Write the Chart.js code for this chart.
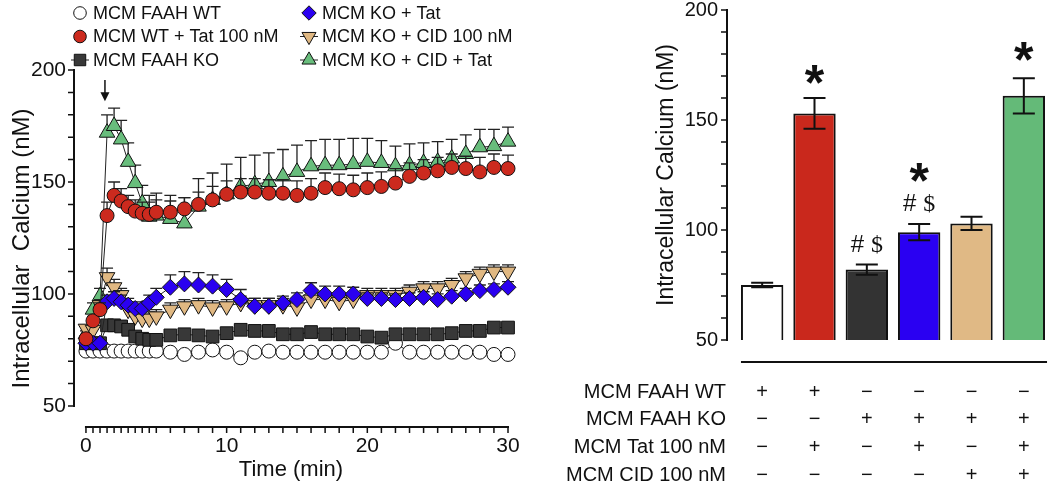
<!DOCTYPE html>
<html>
<head>
<meta charset="utf-8">
<script src="https://cdn.jsdelivr.net/npm/chart.js@4.4.1/dist/chart.umd.min.js"></script>
<style>
  html, body { margin: 0; padding: 0; background: #fff; }
  #wrap { position: relative; width: 1050px; height: 488px; }
  #left { position: absolute; left: 0; top: 0; width: 540px; height: 488px; }
  #right { position: absolute; left: 540px; top: 0; width: 510px; height: 488px; }
</style>
</head>
<body>
<div id="wrap">
  <div id="left"><canvas id="timeChart"></canvas></div>
  <div id="right"><canvas id="barChart"></canvas></div>
</div>
<script>
'use strict';

// ---- time course (left panel) ----
const times = [0, 0.5, 1, 1.5, 2, 2.5, 3, 3.5, 4, 4.5, 5, 6, 7, 8, 9, 10, 11, 12, 13, 14, 15,
               16, 17, 18, 19, 20, 21, 22, 23, 24, 25, 26, 27, 28, 29, 30];

const seriesNames = ['MCM FAAH WT', 'MCM WT + Tat 100 nM', 'MCM FAAH KO',
                     'MCM KO + Tat', 'MCM KO + CID 100 nM', 'MCM KO + CID + Tat'];

const wtValues       = [74.5, 74.5, 74.5, 74.5, 74.5, 74.5, 74.5, 74.5, 74.5, 74.5, 74.5,
                        74, 73, 74, 75, 74, 71.5, 74, 74.5, 74, 74, 74, 74, 74, 74, 74, 74,
                        78, 74, 74, 74, 74, 74, 74, 73, 73];
const wtTatValues    = [80, 88, 93, 135, 144, 141.5, 139, 137, 136, 135.5, 136.5,
                        136.5, 138, 140, 142, 144.5, 145.5, 145.5, 145, 145, 144, 145, 147.5,
                        147, 146.5, 147.5, 148, 149.5, 152.5, 154, 155, 156.5, 156, 154.5, 156.5, 156];
const koValues       = [78, 78, 78, 86, 86, 85.5, 84, 81, 80, 79.5, 79.5,
                        81.5, 82, 81.5, 81, 82.5, 84, 83.5, 83.5, 82, 82, 83, 82, 82, 82, 81,
                        80.5, 82, 82, 82, 82, 82.5, 83.5, 83.5, 85, 85];
const koTatValues    = [78, 78, 78, 96.5, 98, 96.5, 95, 93.5, 93.5, 96, 98.5,
                        103, 104.5, 104, 103.5, 102, 97.5, 94.5, 94.5, 96, 97.5, 101.5, 100,
                        100, 100, 98, 98, 97.5, 98, 98.5, 97.5, 99, 100, 101.5, 102, 103];
const koCidValues    = [84.5, 84, 95, 107.5, 103, 99.5, 93, 90, 89, 89, 90,
                        93, 94.5, 95, 94, 94.5, 96, 95, 95, 95, 94, 97.5, 97.5, 96.5, 97.5,
                        99.5, 99.5, 99.5, 101, 102.5, 102.5, 104, 107, 109, 110, 110];
const koCidTatValues = [82, 93, 99, 172, 175, 169, 159, 149.5, 140.5, 134.5, 135,
                        133.5, 131.5, 139, 142, 144.5, 148, 149, 150, 152.5, 154.5, 157, 157.5,
                        157.5, 158, 159, 158.5, 157, 157.5, 158.5, 159, 160.5, 162.5, 165.5, 166, 168];

// SEM (drawn upward only)
const wtSE       = [0.5, 0.5, 0.5, 0.5, 0.5, 0.5, 0.5, 0.5, 0.5, 0.5, 0.5,
                    0.5, 0.5, 0.5, 0.5, 0.5, 1, 0.5, 0.5, 0.5, 0.5, 0.5, 0.5, 0.5, 0.5, 0.5, 0.5,
                    1.5, 0.5, 0.5, 0.5, 0.5, 0.5, 0.5, 0.5, 0.5];
const wtTatSE    = [1, 2, 3, 6, 6, 5.5, 5, 5, 5, 5.5, 5.5,
                    5, 5, 5.5, 6, 6, 6, 6, 6, 6, 6.5, 6.5, 6.5, 6.5, 6.5, 6.5, 6.5, 6.5,
                    6, 6, 6, 6, 5.5, 6.5, 6, 6];
const koSE       = [1, 1, 1, 2.5, 2.5, 2.5, 2, 1.5, 1.5, 1.5, 1.5,
                    1.5, 1.5, 1.5, 1.5, 1.5, 2, 1.5, 1.5, 1.5, 1.5, 1.5, 1.5, 1.5, 1.5, 1.5,
                    1.5, 1.5, 1.5, 1.5, 1.5, 1.5, 2, 2, 2, 2];
const koTatSE    = [1, 1, 1, 3, 3, 3, 3, 3, 3, 3.5, 4,
                    5.5, 5.5, 5.5, 5, 4.5, 4.5, 3.5, 3.5, 3, 3, 3.5, 3.5, 3.5, 3, 2.5, 2.5,
                    2.5, 2.5, 2.5, 2.5, 2.5, 2.5, 2.5, 2.5, 2.5];
const koCidSE    = [1.5, 1.5, 2.5, 4, 3.5, 3, 3, 3, 3, 3, 3,
                    3, 3, 3, 3, 3, 3, 3, 3, 3, 3, 3, 3, 3.5, 3, 3, 3, 3, 3, 3, 3, 3,
                    3, 3, 3, 3];
const koCidTatSE = [1.5, 3, 3.5, 8, 8, 8.5, 8.5, 8, 8, 9.5, 10,
                    10.5, 11.5, 12.5, 12, 13.5, 13, 13, 13, 12, 12, 11.5, 11.5, 11.5, 11.5,
                    10.5, 10, 9, 9.5, 9, 9, 8.5, 8.5, 8, 7.5, 6.5];

const yTicks = [50, 100, 150, 200];
const xTicks = [0, 10, 20, 30];

// ---- summary bars (right panel) ----
const barGroups = ['MCM FAAH WT', 'MCM WT + Tat', 'MCM FAAH KO',
                   'MCM KO + Tat', 'MCM KO + CID', 'MCM KO + CID + Tat'];
const barMeans = [75, 153, 82, 99, 103, 161];
const barSE    = [1, 7, 2.3, 3.7, 3, 8];

const tableRows  = ['MCM FAAH WT', 'MCM FAAH KO', 'MCM Tat 100 nM', 'MCM CID 100 nM'];
const tableSigns = [
  ['+', '+', '\u2212', '\u2212', '\u2212', '\u2212'],
  ['\u2212', '\u2212', '+', '+', '+', '+'],
  ['\u2212', '+', '\u2212', '+', '\u2212', '+'],
  ['\u2212', '\u2212', '\u2212', '\u2212', '+', '+']
];

// ---------------------------------------------------------------
const seriesValues = [wtValues, wtTatValues, koValues, koTatValues, koCidValues, koCidTatValues];
const seriesErrors = [wtSE, wtTatSE, koSE, koTatSE, koCidSE, koCidTatSE];

const seriesStyle = [
  { color: '#ffffff', shape: 'circle',   r: 7,   rot: 0,   order: 6, legendLine: 0 },
  { color: '#cc2a1e', shape: 'circle',   r: 7,   rot: 0,   order: 1, legendLine: 0 },
  { color: '#383838', shape: 'rect',     r: 9,   rot: 0,   order: 3, legendLine: 18 },
  { color: '#2a00f0', shape: 'rectRot',  r: 8,   rot: 0,   order: 2, legendLine: 0 },
  { color: '#e0b882', shape: 'triangle', r: 9,   rot: 180, order: 4, legendLine: 18 },
  { color: '#68bd7c', shape: 'triangle', r: 9,   rot: 0,   order: 5, legendLine: 18 }
];
const barColors = ['#ffffff', '#c9281c', '#333333', '#2a00f2', '#e0b985', '#64ba78'];

const FONT = '"Liberation Sans", Arial, sans-serif';
Chart.defaults.font.family = FONT;
Chart.defaults.color = '#111';

// minor tick positions on the time axis
const xMinor = [];
for (let t = 0; t <= 5; t += 0.5) xMinor.push(t);
for (let t = 6; t <= 30; t++) xMinor.push(t);

const arrowMark = { t: 1.35, from: 195.5, to: 186 };

const lineAxes = {
  id: 'lineAxes',
  beforeDatasetsDraw(chart) {
    const { ctx, chartArea: a, scales: { x, y } } = chart;
    ctx.save();
    ctx.strokeStyle = '#111';
    ctx.lineWidth = 2;
    ctx.beginPath();
    ctx.moveTo(a.left, y.getPixelForValue(yTicks[0]) + 1);
    ctx.lineTo(a.left, y.getPixelForValue(yTicks[yTicks.length - 1]) - 1);
    ctx.moveTo(x.getPixelForValue(xTicks[0]) - 1, a.bottom);
    ctx.lineTo(x.getPixelForValue(xTicks[xTicks.length - 1]) + 1, a.bottom);
    ctx.stroke();
    ctx.lineWidth = 1.5;
    ctx.beginPath();
    for (let v = yTicks[0]; v <= yTicks[yTicks.length - 1]; v += 10) {
      const py = y.getPixelForValue(v);
      ctx.moveTo(a.left, py);
      ctx.lineTo(a.left - 6, py);
    }
    xMinor.forEach(t => {
      const px = x.getPixelForValue(t);
      ctx.moveTo(px, a.bottom);
      ctx.lineTo(px, a.bottom + 6);
    });
    ctx.stroke();
    ctx.restore();
  }
};

const lineErrors = {
  id: 'lineErrors',
  beforeDatasetDraw(chart, args) {
    const se = seriesErrors[args.index];
    const vals = seriesValues[args.index];
    const y = chart.scales.y;
    const ctx = chart.ctx;
    ctx.save();
    ctx.strokeStyle = '#222';
    ctx.lineWidth = 1.3;
    ctx.beginPath();
    args.meta.data.forEach((pt, j) => {
      const top = y.getPixelForValue(vals[j] + se[j]);
      ctx.moveTo(pt.x, pt.y);
      ctx.lineTo(pt.x, top);
      ctx.moveTo(pt.x - 6, top);
      ctx.lineTo(pt.x + 6, top);
    });
    ctx.stroke();
    ctx.restore();
  }
};

const lineDecor = {
  id: 'lineDecor',
  afterDraw(chart) {
    const { ctx, scales: { x, y } } = chart;
    ctx.save();
    // arrow marking Tat addition
    const ax = x.getPixelForValue(arrowMark.t);
    const y0 = y.getPixelForValue(arrowMark.from);
    const y1 = y.getPixelForValue(arrowMark.to);
    ctx.strokeStyle = '#111';
    ctx.fillStyle = '#111';
    ctx.lineWidth = 1.5;
    ctx.beginPath();
    ctx.moveTo(ax, y0);
    ctx.lineTo(ax, y1 - 6);
    ctx.stroke();
    ctx.beginPath();
    ctx.moveTo(ax, y1);
    ctx.lineTo(ax - 4.5, y1 - 9);
    ctx.lineTo(ax + 4.5, y1 - 9);
    ctx.closePath();
    ctx.fill();

    // legend, two columns of three
    ctx.font = '18px ' + FONT;
    ctx.textBaseline = 'middle';
    ctx.textAlign = 'left';
    const colX = [80, 309];
    const rowY = [13, 36.5, 60];
    seriesNames.forEach((name, i) => {
      const mx = colX[Math.floor(i / 3)];
      const my = rowY[i % 3];
      const st = seriesStyle[i];
      if (st.legendLine) {
        ctx.strokeStyle = '#222';
        ctx.lineWidth = 1;
        ctx.beginPath();
        ctx.moveTo(mx - st.legendLine / 2, my);
        ctx.lineTo(mx + st.legendLine / 2, my);
        ctx.stroke();
      }
      ctx.fillStyle = st.color;
      ctx.strokeStyle = '#111';
      ctx.lineWidth = 1;
      Chart.helpers.drawPoint(ctx, { pointStyle: st.shape, rotation: st.rot, radius: st.r * 0.9, borderWidth: 1 }, mx, my);
      ctx.fillStyle = '#111';
      ctx.fillText(name, mx + 13, my + 1);
    });
    ctx.restore();
  }
};

new Chart(document.getElementById('timeChart'), {
  type: 'line',
  data: {
    datasets: seriesValues.map((vals, i) => ({
      label: seriesNames[i],
      data: times.map((t, j) => ({ x: t, y: vals[j] })),
      borderColor: '#222',
      borderWidth: 1,
      pointStyle: seriesStyle[i].shape,
      pointRotation: seriesStyle[i].rot,
      pointRadius: seriesStyle[i].r,
      pointBackgroundColor: seriesStyle[i].color,
      pointBorderColor: '#111',
      pointBorderWidth: 1,
      order: seriesStyle[i].order,
      clip: false,
      tension: 0
    }))
  },
  plugins: [lineAxes, lineErrors, lineDecor],
  options: {
    responsive: true,
    maintainAspectRatio: false,
    animation: false,
    events: [],
    layout: { padding: { top: 70, right: 32, left: 0, bottom: 0 } },
    plugins: { legend: { display: false }, tooltip: { enabled: false } },
    scales: {
      x: {
        type: 'linear',
        min: -0.85,
        max: 30,
        afterBuildTicks: s => { s.ticks = xTicks.map(v => ({ value: v })); },
        afterFit: s => { s.height = 61; },
        grid: { display: false, drawTicks: false },
        border: { display: false },
        ticks: { font: { size: 21, lineHeight: 1 }, padding: 9, maxRotation: 0, autoSkip: false },
        title: { display: true, text: 'Time (min)', font: { size: 22, lineHeight: 1 }, padding: { top: 0, bottom: 7 } }
      },
      y: {
        min: 40.6,
        max: 200,
        afterBuildTicks: s => { s.ticks = yTicks.map(v => ({ value: v })); },
        afterFit: s => { s.width = 74; },
        grid: { display: false, drawTicks: false },
        border: { display: false },
        ticks: { font: { size: 21, lineHeight: 1 }, padding: 8, autoSkip: false },
        title: { display: true, text: 'Intracellular  Calcium (nM)', font: { size: 24, lineHeight: 1 }, padding: { top: 10, bottom: 0 } }
      }
    }
  }
});

// ---- right panel ----
const starMarks = [{ bar: 1, y: 170.5 }, { bar: 3, y: 126 }, { bar: 5, y: 181 }];
const hashMarks = [{ bar: 2, y: 94 }, { bar: 3, y: 112.5 }];

function centerText(ctx, text, cx, cy) {
  const m = ctx.measureText(text);
  ctx.textAlign = 'center';
  ctx.textBaseline = 'alphabetic';
  ctx.fillText(text, cx, cy + (m.actualBoundingBoxAscent - m.actualBoundingBoxDescent) / 2);
}

const barDecor = {
  id: 'barDecor',
  beforeDatasetsDraw(chart) {
    const { ctx, chartArea: a, scales: { y } } = chart;
    const ax = a.left - 9;
    ctx.save();
    ctx.strokeStyle = '#111';
    ctx.lineWidth = 2;
    ctx.beginPath();
    ctx.moveTo(ax, y.getPixelForValue(yTicks[0]) + 1);
    ctx.lineTo(ax, y.getPixelForValue(yTicks[yTicks.length - 1]) - 1);
    ctx.stroke();
    ctx.lineWidth = 1.5;
    ctx.beginPath();
    for (let v = yTicks[0]; v <= yTicks[yTicks.length - 1]; v += 10) {
      const py = y.getPixelForValue(v);
      ctx.moveTo(ax, py);
      ctx.lineTo(ax - 6, py);
    }
    ctx.stroke();
    ctx.restore();
  },
  afterDatasetsDraw(chart) {
    const { ctx, scales: { y } } = chart;
    const bars = chart.getDatasetMeta(0).data;
    ctx.save();
    ctx.strokeStyle = '#111';
    ctx.lineWidth = 2;
    ctx.beginPath();
    bars.forEach((b, i) => {
      const hi = y.getPixelForValue(barMeans[i] + barSE[i]);
      const lo = y.getPixelForValue(barMeans[i] - barSE[i]);
      ctx.moveTo(b.x, lo); ctx.lineTo(b.x, hi);
      ctx.moveTo(b.x - 11, hi); ctx.lineTo(b.x + 11, hi);
      ctx.moveTo(b.x - 11, lo); ctx.lineTo(b.x + 11, lo);
    });
    ctx.stroke();

    ctx.fillStyle = '#111';
    ctx.font = 'bold 50px ' + FONT;
    starMarks.forEach(s => centerText(ctx, '*', bars[s.bar].x, y.getPixelForValue(s.y)));

    const hashFont = '24px ' + FONT;
    const dollarFont = '24px "Liberation Serif", "Times New Roman", serif';
    hashMarks.forEach(h => {
      ctx.font = hashFont;
      const mh = ctx.measureText('#');
      ctx.font = dollarFont;
      const w2 = ctx.measureText('$').width;
      const gap = 7;
      const sx = bars[h.bar].x - (mh.width + gap + w2) / 2;
      const base = y.getPixelForValue(h.y) + (mh.actualBoundingBoxAscent - mh.actualBoundingBoxDescent) / 2;
      ctx.textAlign = 'left';
      ctx.textBaseline = 'alphabetic';
      ctx.font = hashFont;
      ctx.fillText('#', sx, base);
      ctx.font = dollarFont;
      ctx.fillText('$', sx + mh.width + gap, base);
    });
    ctx.restore();
  },
  afterDraw(chart) {
    const { ctx, chartArea: a, scales: { x } } = chart;
    const bars = chart.getDatasetMeta(0).data;
    ctx.save();
    ctx.strokeStyle = '#111';
    ctx.lineWidth = 2;
    ctx.beginPath();
    const first = bars[0], last = bars[bars.length - 1];
    ctx.moveTo(first.x - first.width / 2, a.bottom + 22);
    ctx.lineTo(last.x + last.width / 2 + 2, a.bottom + 22);
    ctx.stroke();

    ctx.fillStyle = '#111';
    ctx.font = '20px ' + FONT;
    ctx.textBaseline = 'middle';
    tableRows.forEach((name, r) => {
      const py = a.bottom + 52 + r * 27.7;
      ctx.textAlign = 'right';
      ctx.fillText(name, a.left - 10, py);
      ctx.textAlign = 'center';
      tableSigns[r].forEach((s, c) => ctx.fillText(s, x.getPixelForValue(c), py));
    });
    ctx.restore();
  }
};

new Chart(document.getElementById('barChart'), {
  type: 'bar',
  data: {
    labels: barGroups,
    datasets: [{
      data: barMeans,
      backgroundColor: barColors,
      borderColor: '#111',
      borderWidth: 2,
      borderSkipped: false,
      barPercentage: 0.81,
      categoryPercentage: 1
    }]
  },
  plugins: [barDecor],
  options: {
    responsive: true,
    maintainAspectRatio: false,
    animation: false,
    events: [],
    layout: { padding: { top: 10, right: 0, left: 0, bottom: 148 } },
    plugins: { legend: { display: false }, tooltip: { enabled: false } },
    scales: {
      x: { display: false, offset: true },
      y: {
        min: 50,
        max: 200,
        afterBuildTicks: s => { s.ticks = yTicks.map(v => ({ value: v })); },
        afterFit: s => { s.width = 196; s.paddingTop = 10; s.paddingBottom = 10; },
        grid: { display: false, drawTicks: false },
        border: { display: false },
        ticks: { font: { size: 20, lineHeight: 1 }, padding: 18, autoSkip: false },
        title: { display: true, text: 'Intracellular Calcium (nM)', font: { size: 23, lineHeight: 1 }, padding: { top: 115, bottom: 0 } }
      }
    }
  }
});
</script>
</body>
</html>
